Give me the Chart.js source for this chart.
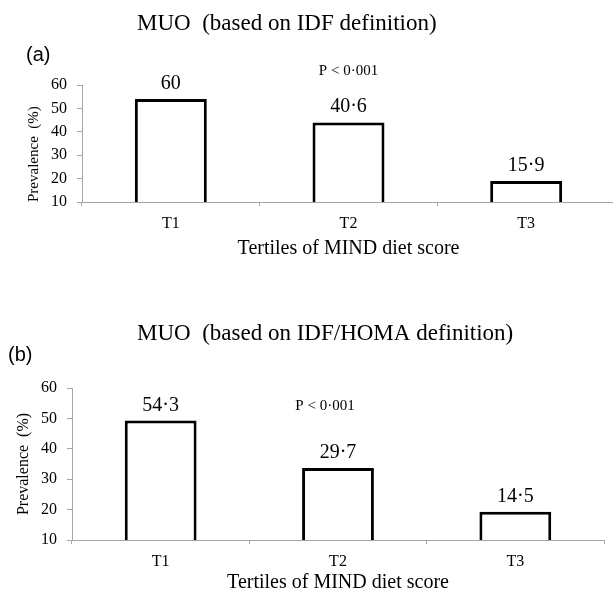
<!DOCTYPE html>
<html>
<head>
<meta charset="utf-8">
<script src="https://cdn.jsdelivr.net/npm/chart.js@4"></script>
<style>
  html, body { margin: 0; padding: 0; background: #fff; overflow: hidden; }
  #wrap { position: relative; width: 613px; height: 595px; overflow: hidden; }
  #chart-a { position: absolute; left: 0; top: 0; }
  #chart-b { position: absolute; left: 0; top: 300px; }
</style>
</head>
<body>
<div id="wrap">
  <canvas id="chart-a" width="625" height="275"></canvas>
  <canvas id="chart-b" width="613" height="295"></canvas>
</div>
<script>
const tertiles = ["T1", "T2", "T3"];

// bar heights as drawn, and the printed values above them
const idfBars = [54, 44, 19];
const idfLabels = ["60", "40·6", "15·9"];
const homaBars = [49.3, 33.7, 19.3];
const homaLabels = ["54·3", "29·7", "14·5"];

const yMin = 10;
const yMax = 60;
const yStep = 10;
const pText = "P < 0·001";

const SERIF = "'Liberation Serif', 'Times New Roman', serif";
const SANS = "'Liberation Sans', Arial, sans-serif";

// draws the printed value over each bar, the heading, panel letter and p value
const annotations = {
  id: "annotations",
  afterDatasetsDraw(chart, args, opts) {
    const ctx = chart.ctx;
    const meta = chart.getDatasetMeta(0);
    ctx.save();
    ctx.fillStyle = "#000";
    ctx.textAlign = "center";
    ctx.textBaseline = "alphabetic";
    ctx.font = "20px " + SERIF;
    meta.data.forEach((bar, i) => {
      ctx.fillText(opts.labels[i], bar.x, bar.y - 10);
    });

    ctx.font = "15px " + SERIF;
    const px = chart.scales.x.getPixelForValue(1) + opts.pShift;
    const py = chart.scales.y.getPixelForValue(opts.pValue);
    ctx.textBaseline = "middle";
    ctx.fillText(pText, px, py);

    ctx.textAlign = "left";
    ctx.textBaseline = "alphabetic";
    ctx.font = "23px " + SERIF;
    ctx.fillText(opts.title, opts.titleX, opts.titleY);

    ctx.textBaseline = "middle";
    ctx.font = "20px " + SANS;
    ctx.fillText(opts.letter, opts.letterX, opts.letterY);
    ctx.restore();
  },
};

function createBarChart(elementId, values, labels, layout) {
  return new Chart(document.getElementById(elementId).getContext("2d"), {
    type: "bar",
    data: {
      labels: tertiles,
      datasets: [
        {
          data: values,
          backgroundColor: "#ffffff",
          borderColor: "#000000",
          borderWidth: 3,
          borderSkipped: false,
          barPercentage: 0.405,
          categoryPercentage: 1,
        },
      ],
    },
    options: {
      responsive: false,
      animation: false,
      events: [],
      layout: {
        padding: { top: layout.top, right: layout.right, left: 0, bottom: 0 },
      },
      plugins: {
        legend: { display: false },
        tooltip: { enabled: false },
        annotations: {
          labels: labels,
          title: layout.title,
          titleX: 137,
          titleY: layout.titleY,
          letter: layout.letter,
          letterX: layout.letterX,
          letterY: 55,
          pValue: layout.pValue,
          pShift: layout.pShift,
        },
      },
      scales: {
        x: {
          afterFit: (scale) => {
            scale.height = layout.xHeight;
          },
          grid: {
            drawOnChartArea: false,
            drawTicks: true,
            tickLength: 4,
            color: "#a6a6a6",
            offset: true,
          },
          border: { color: "#a6a6a6", width: 1 },
          ticks: {
            color: "#000",
            padding: 8,
            font: { family: SERIF, size: 16 },
          },
          title: {
            display: true,
            text: "Tertiles of MIND diet score",
            color: "#000",
            font: { family: SERIF, size: 20 },
            padding: { top: 0, bottom: layout.xTitlePad },
          },
        },
        y: {
          min: yMin,
          max: yMax,
          afterFit: (scale) => {
            scale.width = layout.yWidth;
          },
          grid: {
            drawOnChartArea: false,
            drawTicks: true,
            tickLength: 5,
            color: "#a6a6a6",
          },
          border: { color: "#a6a6a6", width: 1 },
          ticks: {
            stepSize: yStep,
            color: "#000",
            padding: 10,
            font: { family: SERIF, size: 16 },
          },
          title: {
            display: true,
            text: "Prevalence  (%)",
            color: "#000",
            align: layout.yTitleAlign,
            font: { family: SERIF, size: layout.yTitleSize },
            padding: { top: layout.yTitlePad, bottom: 0 },
          },
        },
      },
    },
    plugins: [annotations],
  });
}

createBarChart("chart-a", idfBars, idfLabels, {
  top: 85,
  right: 10,
  yWidth: 82,
  xHeight: 73,
  xTitlePad: 14,
  yTitlePad: 25,
  yTitleSize: 15,
  yTitleAlign: "start",
  title: "MUO  (based on IDF definition)",
  titleY: 30,
  letter: "(a)",
  letterX: 26,
  pValue: 66,
  pShift: 0,
});

createBarChart("chart-b", homaBars, homaLabels, {
  top: 88,
  right: 9,
  yWidth: 72,
  xHeight: 55,
  xTitlePad: 0,
  yTitlePad: 14,
  yTitleSize: 16,
  yTitleAlign: "center",
  title: "MUO  (based on IDF/HOMA definition)",
  titleY: 40,
  letter: "(b)",
  letterX: 8,
  pValue: 54,
  pShift: -13,
});
</script>
</body>
</html>
